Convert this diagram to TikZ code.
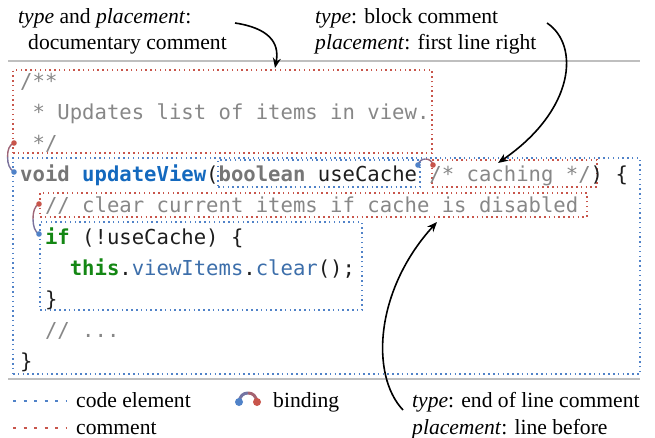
\documentclass[tikz,border=0pt]{standalone}
\usepackage{fontspec}
\setmainfont{Liberation Serif}
\newfontfamily\codefont{DejaVu Sans Mono}
\usetikzlibrary{arrows.meta}
\definecolor{cblue}{RGB}{80,130,200}
\definecolor{cred}{RGB}{200,85,75}
\definecolor{kwgray}{RGB}{118,118,118}
\definecolor{fnblue}{RGB}{20,105,190}
\definecolor{kwgreen}{RGB}{20,135,20}
\definecolor{mblue}{RGB}{60,110,170}
\definecolor{cmgray}{RGB}{135,135,135}
\definecolor{txt}{RGB}{30,30,30}
\begin{document}
\begin{tikzpicture}[x=1pt,y=-1pt,
  code/.style={anchor=base west,inner sep=0,font=\codefont\fontsize{20.6}{31}\selectfont,text=txt},
  lab/.style={anchor=base west,inner sep=0,font=\fontsize{21.6}{26}\selectfont},
  elem/.style={draw=cblue,line width=1.5pt,dash pattern=on 1.5pt off 3.3pt,inner sep=0},
  cmt/.style={draw=cred,line width=1.5pt,dash pattern=on 1.5pt off 3.3pt,inner sep=0},
  legelem/.style={draw=cblue,line width=1.8pt,dash pattern=on 3pt off 7.5pt},
  legcmt/.style={draw=cred,line width=1.8pt,dash pattern=on 3pt off 7.5pt},
  rule/.style={draw=black!25,line width=1.5pt},
  callout/.style={-{Stealth[length=10pt,width=8pt]},line width=1.6pt},
  bindr/.style={draw=cred!65!cblue,line width=1.4pt},
  bindb/.style={draw=cblue!65!cred,line width=1.4pt},
  ]
\useasboundingbox (0,0) rectangle (655,438);

% rules
\coordinate (t1) at (8,61);
\coordinate (t2) at (640,61);
\coordinate (u1) at (8,379);
\coordinate (u2) at (640,379);
\draw[rule] (t1) -- (t2);
\draw[rule] (u1) -- (u2);

% top labels
\node[lab] (l1a) at (18,24) {\textit{type} and \textit{placement}:};
\node[lab] (l1b) at (28,50) {documentary comment};
\node[lab] (l2a) at (315,24) {\textit{type}: block comment};
\node[lab] (l2b) at (315,50) {\textit{placement}: first line right};

% boxes
\node[cmt, minimum width=419pt, minimum height=83pt] (docbox) at (222.5,111.5) {};
\node[elem, minimum width=627pt, minimum height=216pt] (methbox) at (326.5,266) {};
\node[elem, minimum width=202pt, minimum height=27pt] (parbox) at (319,173.5) {};
\node[cmt, minimum width=165pt, minimum height=27pt] (blkbox) at (514.5,173.5) {};
\node[cmt, minimum width=547pt, minimum height=24pt] (eolbox) at (313.5,205) {};
\node[elem, minimum width=322pt, minimum height=88pt] (ifbox) at (201,266) {};

% code
\node[code,text=cmgray] (c0) at (20,89) {/**};
\node[code,text=cmgray] (c1) at (32.4,120) {* Updates list of items in view.};
\node[code,text=cmgray] (c2) at (32.4,151) {*/};
\node[code] (c3) at (20,182) {{\bfseries\color{kwgray}void} {\bfseries\color{fnblue}updateView}({\bfseries\color{kwgray}boolean} useCache {\color{cmgray}/* caching */}) \{};
\node[code,text=cmgray] (c4) at (44.8,212.5) {// clear current items if cache is disabled};
\node[code] (c5) at (44.8,244) {{\bfseries\color{kwgreen}if} (!useCache) \{};
\node[code] (c6) at (69.6,275) {{\bfseries\color{kwgreen}this}.{\color{mblue}viewItems}.{\color{mblue}clear}();};
\node[code] (c7) at (44.8,306) {\}};
\node[code,text=cmgray] (c8) at (44.8,337) {// ...};
\node[code] (c9) at (20,368) {\}};

% bindings
\coordinate (r1) at (14,143); \coordinate (m1) at (7.6,157); \coordinate (b1) at (14,172);
\draw[bindr] (r1) .. controls (9,145) and (7.5,150) .. (m1);
\draw[bindb] (m1) .. controls (7.5,164) and (9.5,169) .. (b1);
\fill[cred] (r1) circle (2.8pt); \fill[cblue] (b1) circle (2.8pt);

\coordinate (r2) at (39,204); \coordinate (m2) at (33,219); \coordinate (b2) at (39,234);
\draw[bindr] (r2) .. controls (34.5,206) and (33,212) .. (m2);
\draw[bindb] (m2) .. controls (33,226) and (35,232) .. (b2);
\fill[cred] (r2) circle (2.8pt); \fill[cblue] (b2) circle (2.8pt);

\coordinate (b3) at (418,165); \coordinate (m3) at (425.5,159); \coordinate (r3) at (433,165);
\draw[bindb] (b3) .. controls (419,161) and (422,159) .. (m3);
\draw[bindr] (m3) .. controls (429,159) and (432,161) .. (r3);
\fill[cblue] (b3) circle (2.8pt); \fill[cred] (r3) circle (2.8pt);

% callout arrows
\coordinate (a1s) at (235,23); \coordinate (a1e) at (275,68);
\draw[callout] (a1s) .. controls (268,28) and (280,42) .. (a1e);
\coordinate (a2s) at (547,23); \coordinate (a2e) at (498,163);
\draw[callout] (a2s) .. controls (580,45) and (575,110) .. (a2e);
\coordinate (a3s) at (403,410); \coordinate (a3e) at (437,222);
\draw[callout] (a3s) .. controls (370,375) and (375,290) .. (a3e);

% legend
\coordinate (le1) at (13,401); \coordinate (le2) at (66,401);
\coordinate (lc1) at (13,428); \coordinate (lc2) at (66,428);
\draw[legelem] (le1) -- (le2);
\draw[legcmt] (lc1) -- (lc2);
\node[lab] (lg1) at (76,407) {code element};
\node[lab] (lg2) at (76,434) {comment};
\coordinate (lbb) at (239,402); \coordinate (lbm) at (248,393); \coordinate (lbr) at (257,402);
\draw[draw=cblue!70!cred,line width=3pt] (lbb) .. controls (240,396) and (243,393) .. (lbm);
\draw[draw=cred!70!cblue,line width=3pt] (lbm) .. controls (253,393) and (256,396) .. (lbr);
\fill[cblue] (lbb) circle (4pt); \fill[cred] (lbr) circle (4pt);
\node[lab] (lg3) at (273,407) {binding};
\node[lab] (l3a) at (412,407) {\textit{type}: end of line comment};
\node[lab] (l3b) at (412,434) {\textit{placement}: line before};
\end{tikzpicture}
\end{document}
